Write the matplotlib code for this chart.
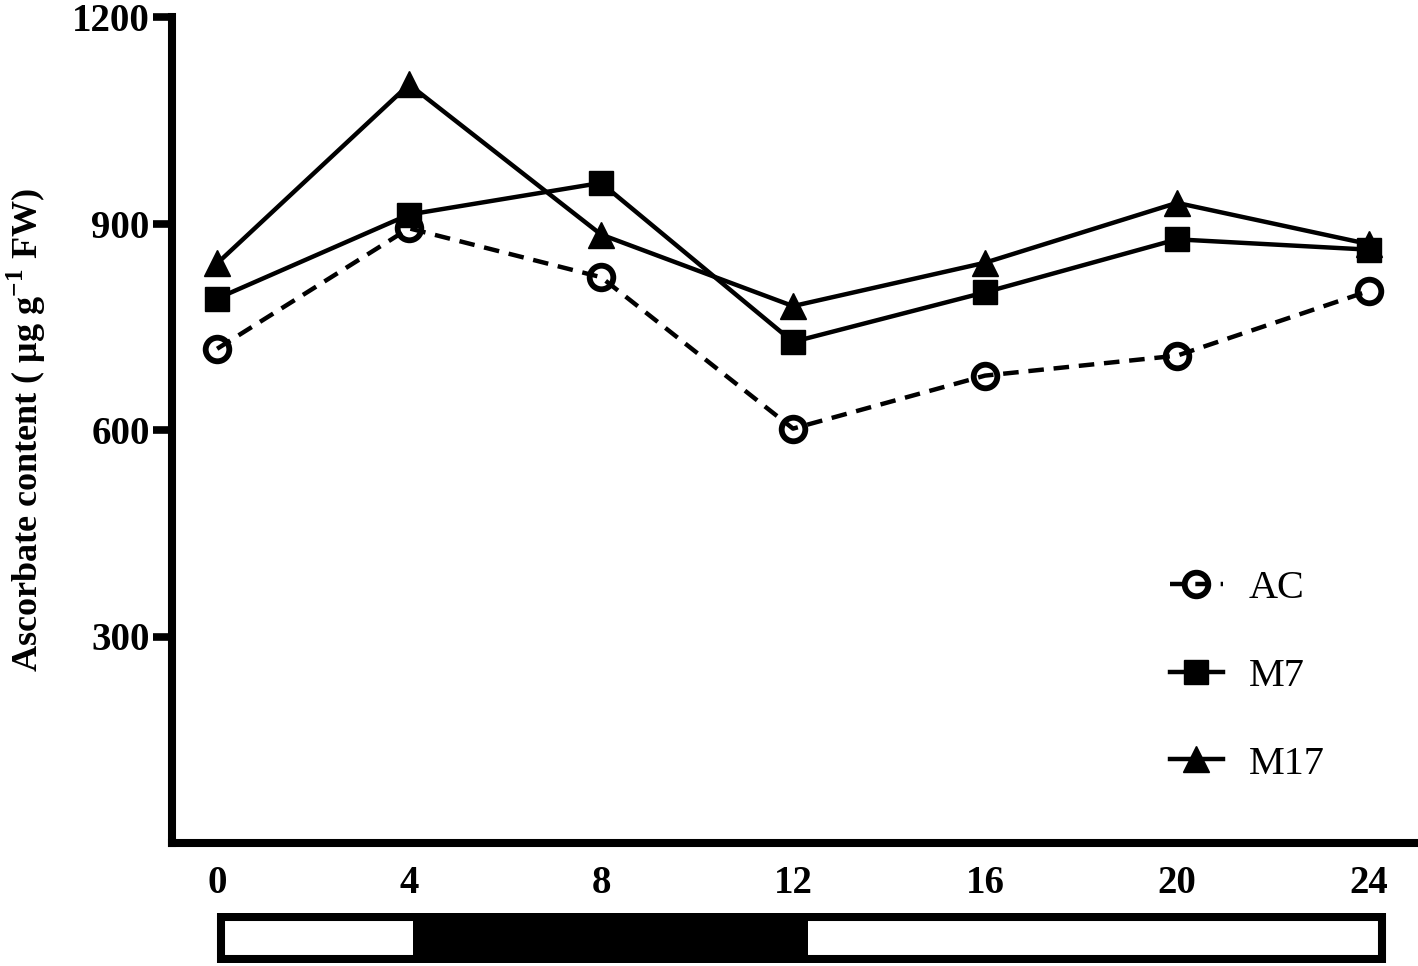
import matplotlib
matplotlib.use("Agg")
import matplotlib.pyplot as plt
from matplotlib.patches import Rectangle

# data
hours = [0, 4, 8, 12, 16, 20, 24]
ac = [718, 893, 822, 602, 679, 708, 802]
m7 = [791, 913, 959, 728, 800, 877, 862]
m17 = [842, 1102, 884, 780, 843, 930, 870]
yticks = [300, 600, 900, 1200]
dark_start, dark_end = 4.08, 12.31

plt.rcParams['font.family'] = ['Liberation Serif', 'DejaVu Serif']
plt.rcParams['mathtext.fontset'] = 'custom'
plt.rcParams['mathtext.rm'] = 'Liberation Serif:bold'
plt.rcParams['mathtext.bf'] = 'Liberation Serif:bold'

W, H = 1418, 966
fig = plt.figure(figsize=(W / 100, H / 100), dpi=100)

ax = fig.add_axes([172 / W, 1 - 843 / H, (1415 - 172) / W, (843 - 17) / H])
lw = 3.2
ax.plot(hours, ac, color='black', lw=lw, linestyle=(0, (3.5, 2.2)), marker='o',
        markersize=17, markerfacecolor='none', markeredgewidth=4.2, label='AC', clip_on=False)
ax.plot(hours, m7, color='black', lw=lw, marker='s', markersize=17, label='M7', clip_on=False)
ax.plot(hours, m17, color='black', lw=lw, marker='^', markersize=19, label='M17', clip_on=False)

ax.set_xlim(-0.94, 24.96)
ax.set_ylim(0, 1200)
ax.set_xticks(hours)
ax.set_yticks(yticks)
ax.tick_params(axis='x', length=0, pad=16, labelsize=28)
ax.tick_params(axis='y', length=14, width=5.5, pad=2, labelsize=28)
for lab in ax.get_xticklabels() + ax.get_yticklabels():
    lab.set_fontweight('bold')
for s in ['top', 'right']:
    ax.spines[s].set_visible(False)
for s in ['left', 'bottom']:
    ax.spines[s].set_linewidth(5.8)

ax.set_ylabel('Ascorbate content ( μg g$^{-1}$ FW)', fontsize=26, fontweight='bold')
ax.yaxis.set_label_coords(-0.1, 0.5)

ax.legend(frameon=False, fontsize=29, handlelength=1.3, handletextpad=0.65,
          labelspacing=1.25, loc='upper left',
          bbox_to_anchor=(1134 / W, 1 - 534 / H), bbox_transform=fig.transFigure)

# light/dark bar under the axis
bx = fig.add_axes([172 / W, 1 - 963 / H, (1415 - 172) / W, 50 / H])
bx.set_xlim(-0.94, 24.96)
bx.set_ylim(0, 1)
bx.axis('off')
bx.add_patch(Rectangle((dark_start, 0), dark_end - dark_start, 1, facecolor='black', edgecolor='none'))
bx.add_patch(Rectangle((0.08, 0.08), 24.19, 0.84, facecolor='none', edgecolor='black', lw=5.8))

fig.savefig('out.png', dpi=100)
